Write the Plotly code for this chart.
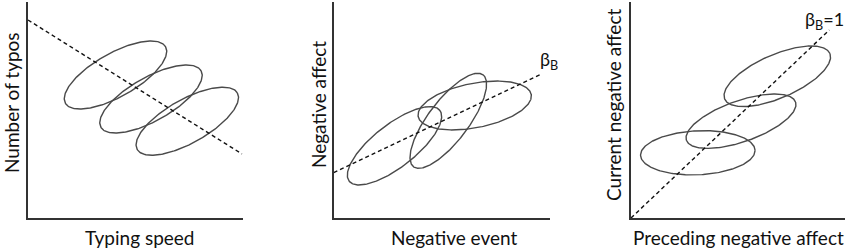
import numpy as np
import plotly.graph_objects as go

W, H = 850, 249

# ---- data (units = pixels from each panel's origin) ----
panel_x_px = [28, 333.7, 631]          # y-axis positions
panel_x_end = [243, 549.7, 845]        # x-axis right ends
axis_bottom_px = 218
axis_top_px = 2

# ellipses: center x, center y, semi-major, semi-minor, angle (deg)
p1_cx = [87.5, 123.0, 159.3]
p1_cy = [143.0, 119.0, 96.8]
p1_a = [57.5, 57.5, 57.5]
p1_b = [21.8, 21.8, 21.8]
p1_ang = [29.4, 29.4, 29.4]

p2_cx = [60.8, 114.6, 141.0]
p2_cy = [72.2, 97.2, 112.5]
p2_a = [57.5, 57.6, 57.6]
p2_b = [21.3, 20.2, 22.2]
p2_ang = [38.0, 52.9, 11.1]

p3_cx = [66.8, 110.0, 146.3]
p3_cy = [65.2, 96.8, 141.7]
p3_a = [57.3, 57.8, 57.3]
p3_b = [22.0, 20.5, 21.7]
p3_ang = [2.6, 19.3, 23.5]

# dashed between-person lines
p1_line_x = [0, 214]
p1_line_y = [198, 64]
p2_line_x = [0, 207.6]
p2_line_y = [45.3, 144]
p3_line_x = [0, 198.3]
p3_line_y = [0, 188]

x_titles = ["Typing speed", "Negative event", "Preceding negative affect"]
y_titles = ["Number of typos", "Negative affect", "Current negative affect"]
beta_labels = ["β<sub>B</sub>", "β<sub>B</sub>", "β<sub>B</sub>=1"]
beta_pos = [(217, 57), (204, 158), (172, 197)]   # data coords, left-middle
x_title_px = [(140, 237), (454, 237), (738.5, 237)]
y_title_px = [(11, 103), (318, 105), (613, 105)]

FONT = "Lato"
ELL_COLOR = "#4a4a4a"
AX_COLOR = "#333333"

fig = go.Figure()

panels = [
    (p1_cx, p1_cy, p1_a, p1_b, p1_ang, p1_line_x, p1_line_y),
    (p2_cx, p2_cy, p2_a, p2_b, p2_ang, p2_line_x, p2_line_y),
    (p3_cx, p3_cy, p3_a, p3_b, p3_ang, p3_line_x, p3_line_y),
]

t = np.linspace(0, 2 * np.pi, 241)
for i, (cx, cy, aa, bb, ang, lx, ly) in enumerate(panels):
    xa = "x" if i == 0 else f"x{i+1}"
    ya = "y" if i == 0 else f"y{i+1}"
    for c_x, c_y, A, B, th in zip(cx, cy, aa, bb, ang):
        r = np.deg2rad(th)
        ex = c_x + A * np.cos(t) * np.cos(r) - B * np.sin(t) * np.sin(r)
        ey = c_y + A * np.cos(t) * np.sin(r) + B * np.sin(t) * np.cos(r)
        fig.add_trace(go.Scatter(x=ex, y=ey, mode="lines", xaxis=xa, yaxis=ya,
                                 line=dict(color=ELL_COLOR, width=1.4),
                                 hoverinfo="skip", showlegend=False))
    fig.add_trace(go.Scatter(x=lx, y=ly, mode="lines", xaxis=xa, yaxis=ya,
                             line=dict(color="#111111", width=1.4, dash="4px,3px"),
                             hoverinfo="skip", showlegend=False))

layout = dict(width=W, height=H, margin=dict(l=0, r=0, t=0, b=0),
              paper_bgcolor="white", plot_bgcolor="white", showlegend=False)
ydom = [(H - axis_bottom_px) / H, (H - axis_top_px) / H]
for i in range(3):
    sx = "" if i == 0 else str(i + 1)
    x0p, x1p = panel_x_px[i], panel_x_end[i]
    layout[f"xaxis{sx}"] = dict(domain=[x0p / W, x1p / W], range=[0, x1p - x0p],
                                showline=True, linecolor=AX_COLOR, linewidth=2,
                                showgrid=False, zeroline=False, showticklabels=False,
                                ticks="", anchor=f"y{sx}", fixedrange=True)
    layout[f"yaxis{sx}"] = dict(domain=ydom, range=[0, axis_bottom_px - axis_top_px],
                                showline=True, linecolor=AX_COLOR, linewidth=2,
                                showgrid=False, zeroline=False, showticklabels=False,
                                ticks="", anchor=f"x{sx}", fixedrange=True)
fig.update_layout(**layout)

for i in range(3):
    sx = "" if i == 0 else str(i + 1)
    fig.add_annotation(x=x_title_px[i][0] / W, y=(H - x_title_px[i][1]) / H,
                       xref="paper", yref="paper", text=x_titles[i], showarrow=False,
                       xanchor="center", yanchor="middle",
                       font=dict(family=FONT, size=19, color="#111111"))
    fig.add_annotation(x=y_title_px[i][0] / W, y=(H - y_title_px[i][1]) / H,
                       xref="paper", yref="paper", text=y_titles[i], showarrow=False,
                       xanchor="center", yanchor="middle", textangle=-90,
                       font=dict(family=FONT, size=19, color="#111111"))
    fig.add_annotation(x=beta_pos[i][0], y=beta_pos[i][1], xref=f"x{sx}", yref=f"y{sx}",
                       text=beta_labels[i], showarrow=False, xanchor="left",
                       yanchor="middle",
                       font=dict(family=FONT, size=18, color="#111111"))

fig.write_html("out.html", config={"displayModeBar": False},
               post_script="document.body.style.margin='0';document.body.style.overflow='hidden';")
